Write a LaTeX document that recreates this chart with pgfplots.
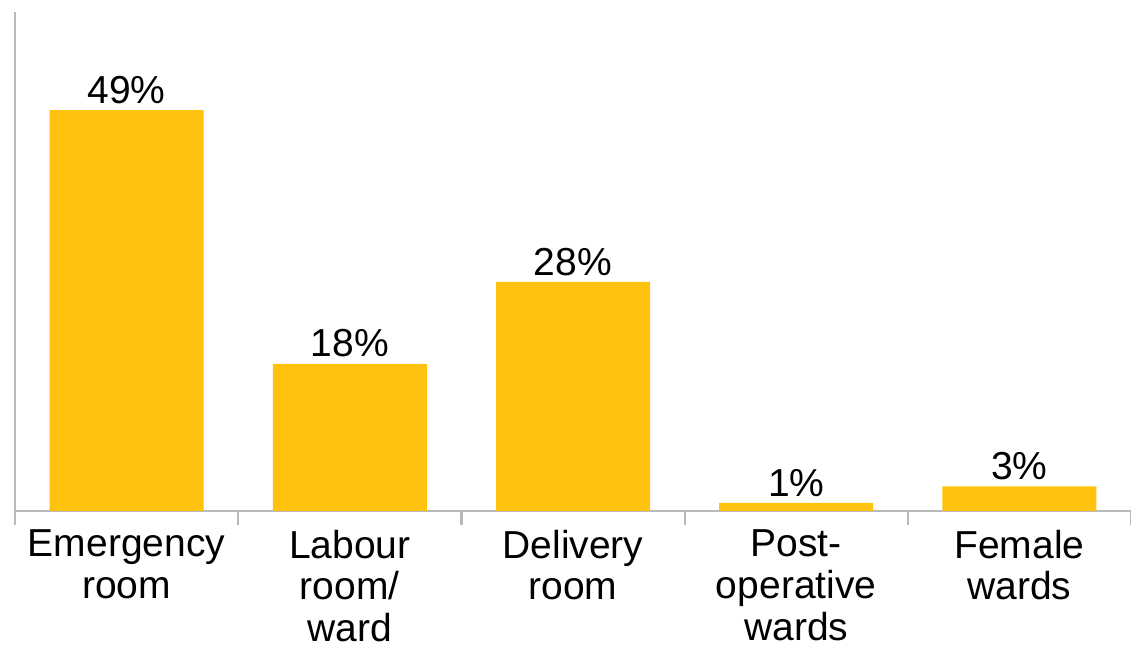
\documentclass[border=0pt]{standalone}
\usepackage{pgfplots}
\pgfplotsset{compat=1.18}
\usepackage{fontspec}
\setmainfont{Liberation Sans}
\definecolor{baryellow}{RGB}{254,194,15}
\definecolor{axisgray}{RGB}{185,185,185}
\begin{document}
\begin{tikzpicture}
\begin{axis}[
  at={(0,0)}, anchor=south west,
  scale only axis,
  width=558pt, height=249.5pt,
  xmin=-0.5, xmax=4.5,
  ymin=0, ymax=61,
  axis x line=bottom, axis y line=left,
  axis line style={-, axisgray, line width=1.1pt},
  ytick=\empty,
  xtick={-0.5,0.5,1.5,2.5,3.5,4.5},
  x tick label as interval,
  xticklabels={Emergency\\room, Labour\\room/\\ward, Delivery\\room, Post-\\operative\\wards, Female\\wards},
  major tick length=7pt,
  x tick style={axisgray, line width=1.1pt},
  tick align=outside,
  xticklabel style={align=center, font=\fontsize{19.5}{20.8}\selectfont, text=black, yshift=1pt},
  /pgf/number format/assume math mode=true,
  ybar, bar width=77pt,
  nodes near coords={\pgfmathprintnumber{\pgfplotspointmeta}\%},
  every node near coord/.append style={font=\fontsize{19.5}{22}\selectfont, text=black, inner sep=3pt, anchor=south},
  clip=false,
]
\addplot[fill=baryellow, draw=none] coordinates {(0,49) (1,18) (2,28) (3,1) (4,3)};
\end{axis}
\pgfresetboundingbox
\path (-7.5pt,-68.5pt) rectangle (558pt,255.5pt);
\end{tikzpicture}
\end{document}
